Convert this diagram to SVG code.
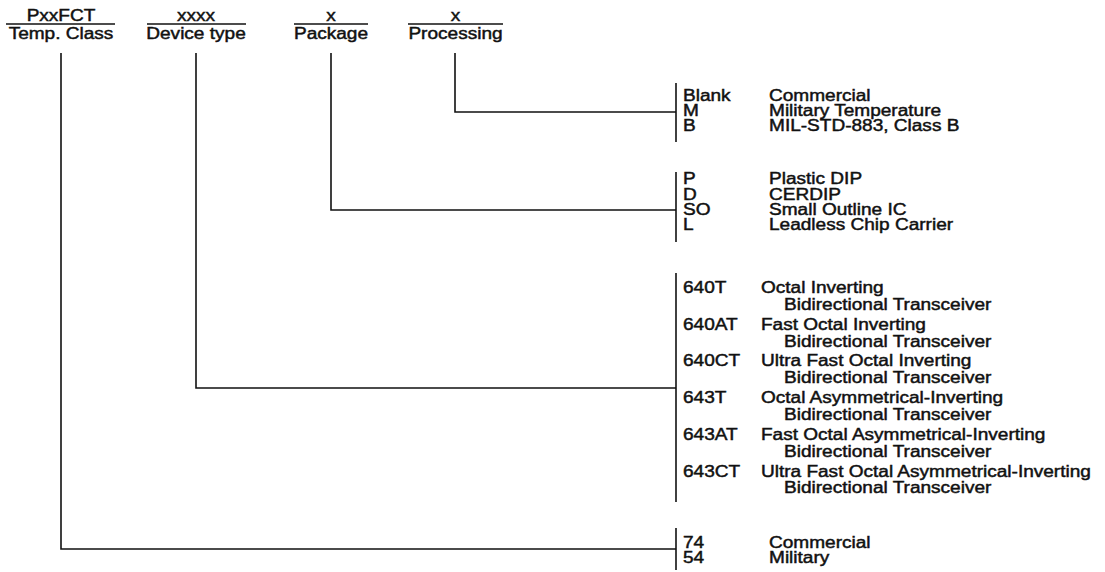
<svg xmlns="http://www.w3.org/2000/svg" width="1105" height="572" viewBox="0 0 1105 572">
<style>
text{font-family:"Liberation Sans",Arial,sans-serif;font-size:16px;fill:#111;stroke:#111;stroke-width:0.45;}
.h{text-anchor:middle;}
.ln{stroke:#111;stroke-width:1.6;fill:none;}
</style>
<rect width="1105" height="572" fill="#fff"/>
<g id="hdr-temp">
<line class="ln" x1="6" y1="24" x2="115" y2="24"/>
<g transform="translate(61 0) scale(1.19 1)"><text class="h" x="0" y="21">PxxFCT</text><text class="h" x="0" y="39">Temp. Class</text></g>
</g>
<g id="hdr-device">
<line class="ln" x1="147" y1="24" x2="246" y2="24"/>
<g transform="translate(196 0) scale(1.19 1)"><text class="h" x="0" y="21">xxxx</text><text class="h" x="0" y="39">Device type</text></g>
</g>
<g id="hdr-package">
<line class="ln" x1="294" y1="24" x2="368" y2="24"/>
<g transform="translate(331 0) scale(1.19 1)"><text class="h" x="0" y="21">x</text><text class="h" x="0" y="39">Package</text></g>
</g>
<g id="hdr-processing">
<line class="ln" x1="408" y1="24" x2="503" y2="24"/>
<g transform="translate(455.5 0) scale(1.19 1)"><text class="h" x="0" y="21">x</text><text class="h" x="0" y="39">Processing</text></g>
</g>
<g id="connectors">
<polyline class="ln" points="455,53 455,112 676,112"/>
<polyline class="ln" points="331,53 331,210 676,210"/>
<polyline class="ln" points="196,53 196,388 676,388"/>
<polyline class="ln" points="61,53 61,549 676,549"/>
</g>
<g id="list-processing">
<line class="ln" x1="676" y1="83" x2="676" y2="142"/>
<g transform="translate(683 0) scale(1.19 1)">
<text x="0" y="101">Blank</text><text x="72.3" y="101">Commercial</text>
<text x="0" y="116">M</text><text x="72.3" y="116">Military Temperature</text>
<text x="0" y="131">B</text><text x="72.3" y="131">MIL-STD-883, Class B</text>
</g>
</g>
<g id="list-package">
<line class="ln" x1="676" y1="172" x2="676" y2="242"/>
<g transform="translate(683 0) scale(1.19 1)">
<text x="0" y="184">P</text><text x="72.3" y="184">Plastic DIP</text>
<text x="0" y="200">D</text><text x="72.3" y="200">CERDIP</text>
<text x="0" y="215">SO</text><text x="72.3" y="215">Small Outline IC</text>
<text x="0" y="230">L</text><text x="72.3" y="230">Leadless Chip Carrier</text>
</g>
</g>
<g id="list-device">
<line class="ln" x1="676" y1="273" x2="676" y2="502"/>
<g transform="translate(683 0) scale(1.19 1)">
<text x="0" y="293">640T</text><text x="65.5" y="293">Octal Inverting</text>
<text x="84.9" y="310">Bidirectional Transceiver</text>
<text x="0" y="330">640AT</text><text x="65.5" y="330">Fast Octal Inverting</text>
<text x="84.9" y="347">Bidirectional Transceiver</text>
<text x="0" y="366">640CT</text><text x="65.5" y="366">Ultra Fast Octal Inverting</text>
<text x="84.9" y="383">Bidirectional Transceiver</text>
<text x="0" y="403">643T</text><text x="65.5" y="403">Octal Asymmetrical-Inverting</text>
<text x="84.9" y="420">Bidirectional Transceiver</text>
<text x="0" y="440">643AT</text><text x="65.5" y="440">Fast Octal Asymmetrical-Inverting</text>
<text x="84.9" y="457">Bidirectional Transceiver</text>
<text x="0" y="477">643CT</text><text x="65.5" y="477">Ultra Fast Octal Asymmetrical-Inverting</text>
<text x="84.9" y="493">Bidirectional Transceiver</text>
</g>
</g>
<g id="list-temp">
<line class="ln" x1="676" y1="528" x2="676" y2="570"/>
<g transform="translate(683 0) scale(1.19 1)">
<text x="0" y="548">74</text><text x="72.3" y="548">Commercial</text>
<text x="0" y="563">54</text><text x="72.3" y="563">Military</text>
</g>
</g>
</svg>
